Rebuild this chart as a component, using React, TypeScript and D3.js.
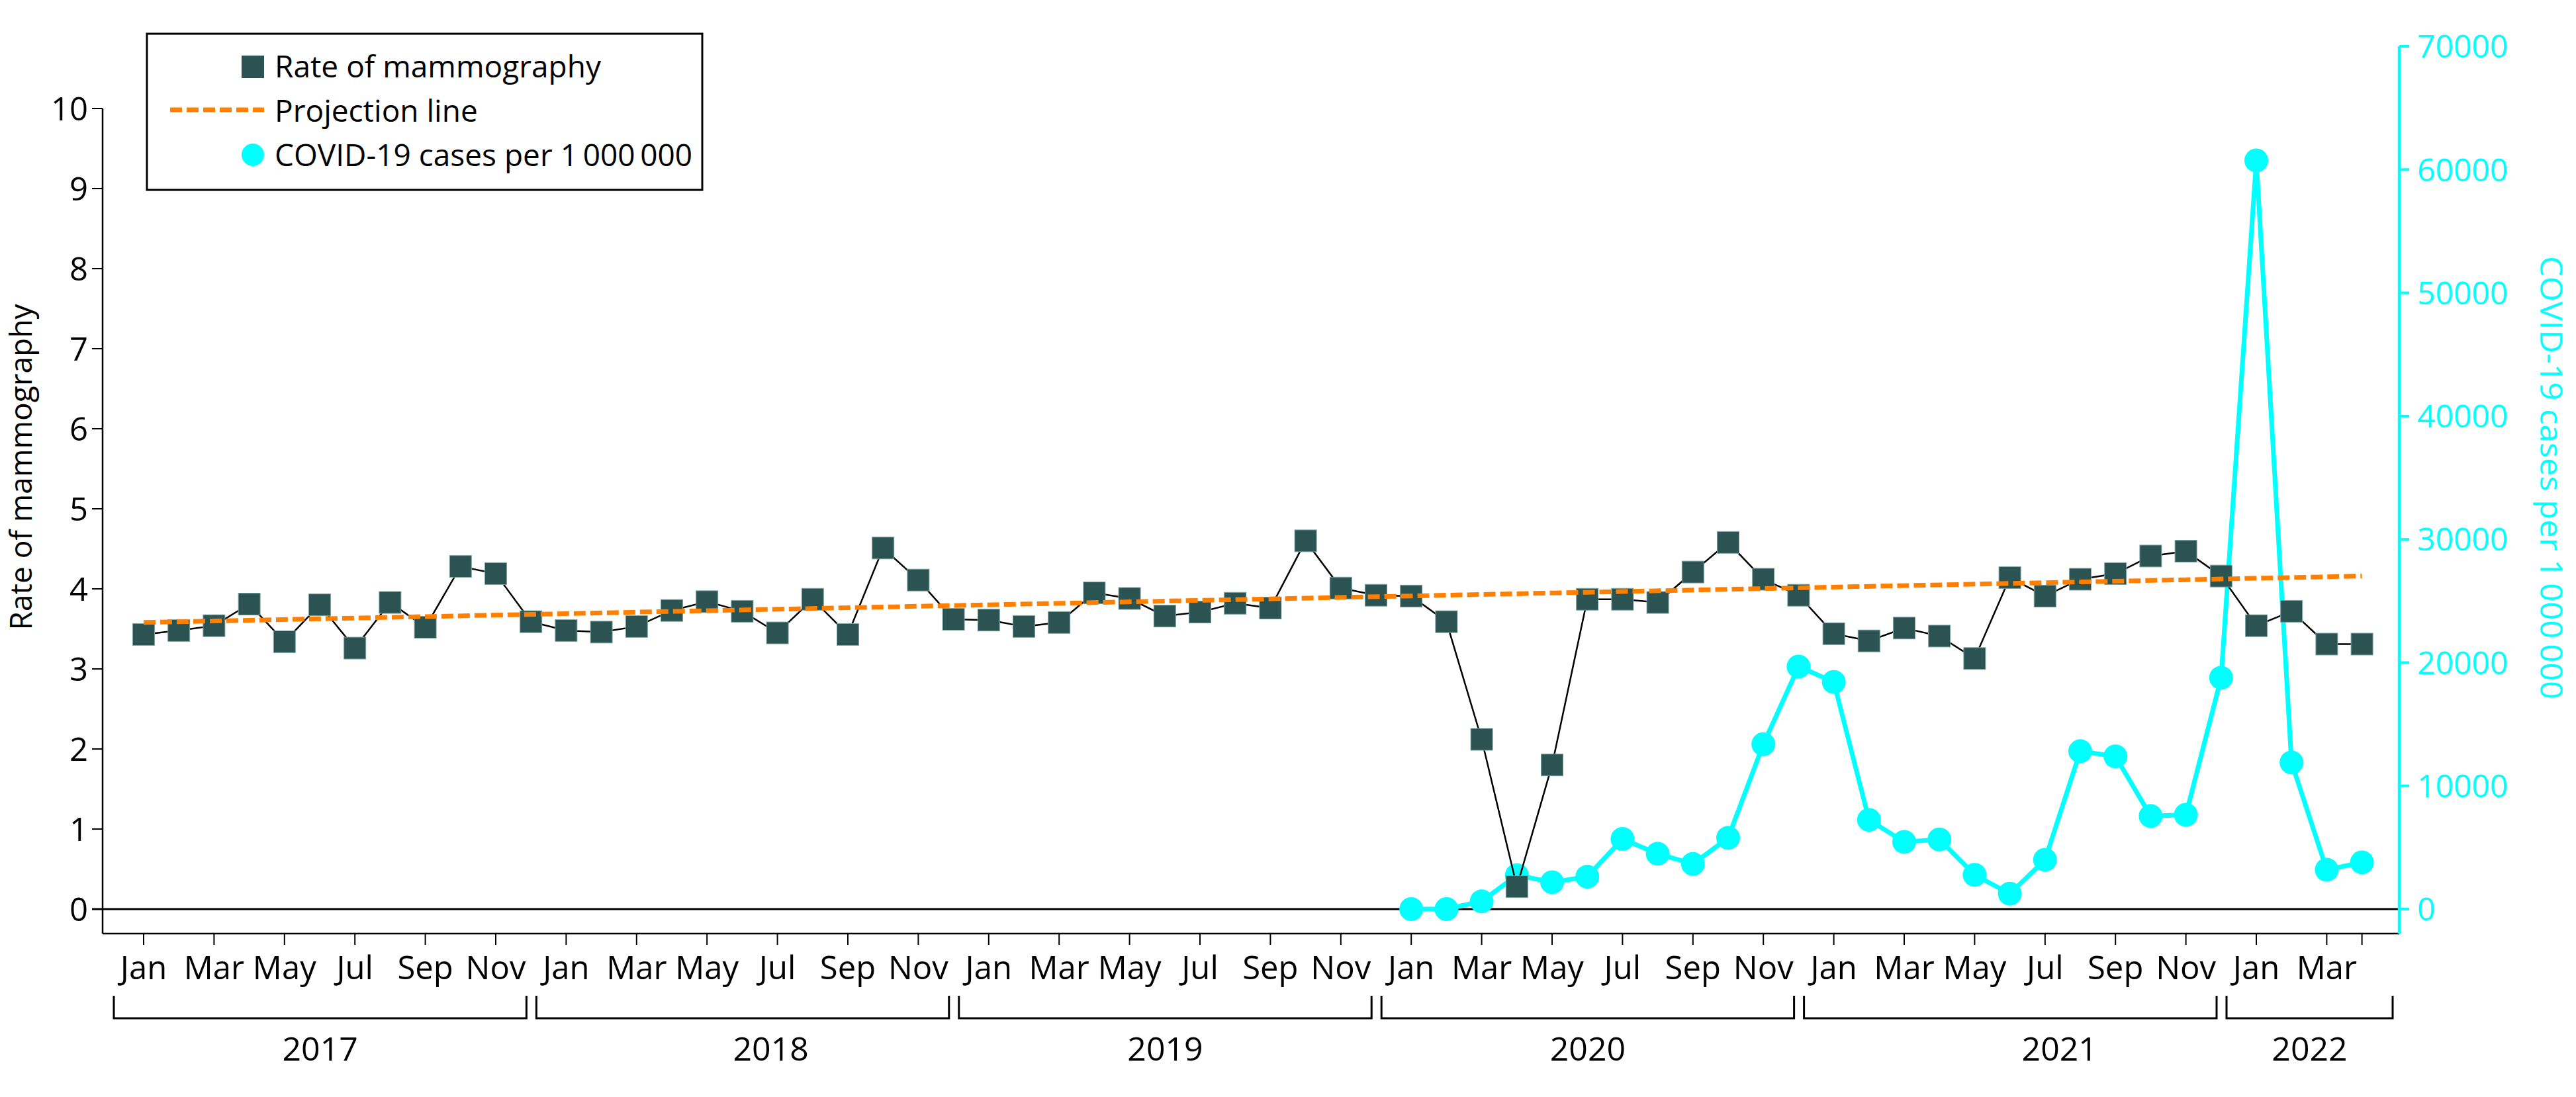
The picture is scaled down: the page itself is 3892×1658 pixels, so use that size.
import React from "react";
import * as d3 from "d3";

const months = ["Jan","Feb","Mar","Apr","May","Jun","Jul","Aug","Sep","Oct","Nov","Dec"];
const years = [2017, 2018, 2019, 2020, 2021, 2022];
const monthsInYear = [12, 12, 12, 12, 12, 4];
const yearLabelShift = [0, 0.8, 0, 0, 1.4, 0];

const mammography = [
  3.43, 3.48, 3.54, 3.81, 3.34, 3.80, 3.26, 3.83, 3.52, 4.28, 4.19, 3.59,
  3.48, 3.46, 3.53, 3.73, 3.84, 3.72, 3.45, 3.87, 3.43, 4.51, 4.11, 3.62,
  3.61, 3.53, 3.58, 3.95, 3.88, 3.66, 3.71, 3.82, 3.76, 4.60, 4.01, 3.92,
  3.91, 3.59, 2.12, 0.28, 1.80, 3.87, 3.87, 3.83, 4.21, 4.58, 4.12, 3.92,
  3.44, 3.35, 3.51, 3.41, 3.13, 4.14, 3.91, 4.12, 4.19, 4.41, 4.47, 4.16,
  3.54, 3.72, 3.31, 3.31,
];

const covidStart = 36;
const covid = [
  0, 0, 630, 2750, 2180, 2630, 5690, 4490, 3660, 5780, 13380, 19680,
  18430, 7240, 5450, 5650, 2780, 1250, 4000, 12810, 12390, 7550, 7650, 18770,
  60740, 11900, 3190, 3790,
];

const projectionStart = 3.58;
const projectionEnd = 4.16;

const leftTicks = d3.range(0, 11);
const rightTicks = d3.range(0, 70001, 10000);

const FONT = "'Open Sans', 'Noto Sans', sans-serif";

export default function App() {
  const W = 3892, H = 1658;
  const n = mammography.length;
  const x = d3.scaleLinear().domain([0, n - 1]).range([217, 3568.6]);
  const yL = d3.scaleLinear().domain([0, 10]).range([1374, 164]);
  const yR = d3.scaleLinear().domain([0, 70000]).range([1374, 70]);
  const axisLeft = 155, axisRight = 3625, axisBottom = 1411;
  const step = x(1) - x(0);

  const mLine = d3.line<number>().x((_, i) => x(i)).y((d) => yL(d))(mammography) || "";
  const cLine = d3.line<number>().x((_, i) => x(i + covidStart)).y((d) => yR(d))(covid) || "";

  const tickIdx = d3.range(0, n).filter((i) => i % 2 === 0 || i === n - 1);

  let start = 0;
  const brackets = years.map((yr, k) => {
    const s = start;
    const cnt = monthsInYear[k];
    start += cnt;
    const x0 = x(s) - 45;
    const x1 = k < years.length - 1 ? x(s + 12) - 60 : axisRight - 10;
    const lx = (x0 + x1) / 2 + yearLabelShift[k] * step;
    return { yr, x0, x1, lx };
  });

  const sq = 33;

  return (
    <svg width={W} height={H} style={{ position: "absolute", left: 0, top: 0, background: "#fff" }} fontFamily={FONT}>
      <rect x={0} y={0} width={W} height={H} fill="#fff" />
      {/* axes */}
      <line x1={axisLeft} x2={axisLeft} y1={yL(10)} y2={axisBottom} stroke="#000" strokeWidth={2.5} />
      <line x1={axisLeft} x2={axisRight} y1={axisBottom} y2={axisBottom} stroke="#000" strokeWidth={2.5} />
      <line x1={axisLeft - 16} x2={axisRight} y1={yL(0)} y2={yL(0)} stroke="#000" strokeWidth={3} />
      {leftTicks.map((t) => (
        <g key={"l" + t}>
          <line x1={axisLeft - 16} x2={axisLeft} y1={yL(t)} y2={yL(t)} stroke="#000" strokeWidth={2} />
          <text x={axisLeft - 22} y={yL(t)} dy="0.36em" textAnchor="end" fontSize={49} fill="#000">{t}</text>
        </g>
      ))}
      <text transform={`translate(48,706) rotate(-90)`} textAnchor="middle" fontSize={46} fill="#000">Rate of mammography</text>

      {/* right axis */}
      <line x1={axisRight} x2={axisRight} y1={yR(70000)} y2={axisBottom} stroke="#00FFFF" strokeWidth={4.5} />
      {rightTicks.map((t) => (
        <g key={"r" + t}>
          <line x1={axisRight} x2={axisRight + 15} y1={yR(t)} y2={yR(t)} stroke="#00FFFF" strokeWidth={4} />
          <text x={axisRight + 27} y={yR(t)} dy="0.36em" textAnchor="start" fontSize={48} fill="#00FFFF">{t}</text>
        </g>
      ))}
      <text transform={`translate(3838,722) rotate(90)`} textAnchor="middle" fontSize={46} fill="#00FFFF" textLength={670} lengthAdjust="spacingAndGlyphs">COVID-19 cases per 1{"\u2009"}000{"\u2009"}000</text>

      {/* month ticks */}
      {tickIdx.map((i) => (
        <g key={"m" + i}>
          <line x1={x(i)} x2={x(i)} y1={axisBottom} y2={axisBottom + 17} stroke="#000" strokeWidth={2} />
          {i % 2 === 0 && (
            <text x={x(i)} y={1480} textAnchor="middle" fontSize={49} fill="#000">{months[i % 12]}</text>
          )}
        </g>
      ))}
      {brackets.map((b) => (
        <g key={"y" + b.yr}>
          <path d={`M${b.x0},1505V1539H${b.x1}V1505`} fill="none" stroke="#000" strokeWidth={3} />
          <text x={b.lx} y={1603} textAnchor="middle" fontSize={50} fill="#000">{b.yr}</text>
        </g>
      ))}

      {/* covid series */}
      <path d={cLine} fill="none" stroke="#00FFFF" strokeWidth={7} />
      {covid.map((v, i) => (
        <circle key={"c" + i} cx={x(i + covidStart)} cy={yR(v)} r={18} fill="#00FFFF" />
      ))}

      {/* mammography */}
      <path d={mLine} fill="none" stroke="#000" strokeWidth={2.5} />
      {mammography.map((v, i) => (
        <rect key={"s" + i} x={x(i) - sq / 2} y={yL(v) - sq / 2} width={sq} height={sq} fill="#2A5352" stroke="#7fa6a4" strokeWidth={1} />
      ))}

      {/* projection */}
      <line x1={x(0)} x2={x(n - 1)} y1={yL(projectionStart)} y2={yL(projectionEnd)} stroke="#FF8000" strokeWidth={7} strokeDasharray="18 7" />

      {/* legend */}
      <rect x={222} y={51} width={839} height={236} fill="#fff" stroke="#000" strokeWidth={3} />
      <rect x={365} y={101 - 17} width={34} height={34} fill="#2A5352" />
      <text x={415} y={117} fontSize={46} fill="#000">Rate of mammography</text>
      <line x1={257} x2={399} y1={166} y2={166} stroke="#FF8000" strokeWidth={7} strokeDasharray="18 7" />
      <text x={415} y={184} fontSize={46} fill="#000">Projection line</text>
      <circle cx={382} cy={234} r={17} fill="#00FFFF" />
      <text x={415} y={251} fontSize={46} fill="#000">COVID-19 cases per 1{"\u2009"}000{"\u2009"}000</text>
    </svg>
  );
}
